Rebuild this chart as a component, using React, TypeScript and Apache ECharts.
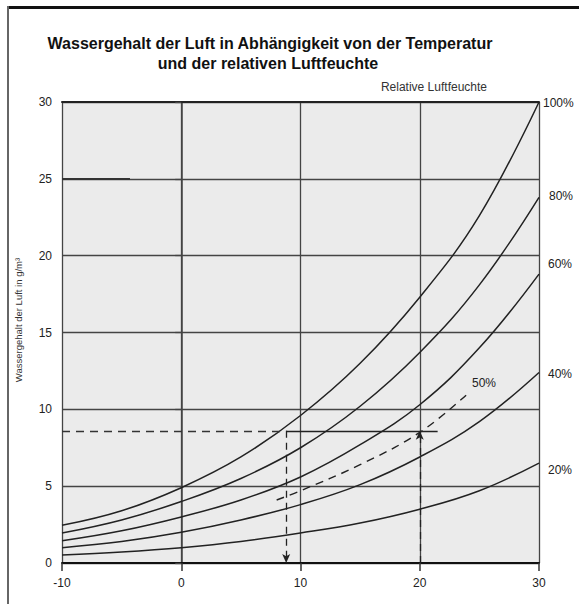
import React, { useEffect, useRef } from "react";
import * as echarts from "echarts";

const temps = [-10, -5, 0, 5, 10, 15, 20, 25, 30];
const rh100 = [2.45, 3.4, 4.9, 6.9, 9.6, 13.0, 17.3, 22.6, 30.0];
const rh80 = [1.95, 2.8, 4.0, 5.5, 7.5, 10.2, 13.7, 18.1, 23.8];
const rh60 = [1.45, 2.1, 3.0, 4.1, 5.6, 7.7, 10.3, 14.0, 18.8];
const rh40 = [1.0, 1.4, 2.0, 2.8, 3.8, 5.1, 6.9, 9.2, 12.4];
const rh20 = [0.52, 0.72, 1.0, 1.4, 1.95, 2.6, 3.5, 4.7, 6.5];
const temps50 = [8, 10, 15, 20, 24];
const rh50 = [4.1, 4.7, 6.4, 8.5, 11.0];

const xTicks = [-10, 0, 10, 20, 30];
const yTicks = [0, 5, 10, 15, 20, 25, 30];

// worked example: 20 °C, 50 % -> 8.6 g/m³ -> dew point ~8.8 °C
const exampleT = 20;
const exampleV = 8.6;
const dewT = 8.8;
const solidEndT = 21.5;
const shortLineV = 25;
const shortLineEndT = -4.3;

const title1 = "Wassergehalt der Luft in Abhängigkeit von der Temperatur";
const title2 = "und der relativen Luftfeuchte";
const legendTitle = "Relative Luftfeuchte";
const yName = "Wassergehalt der Luft in g/m³";

const FONT = "Liberation Sans, Arial, sans-serif";
const INK = "#222";

function pairs(xs: number[], ys: number[]) {
  return xs.map((x, i) => [x, ys[i]]);
}

export default function App() {
  const ref = useRef<HTMLDivElement>(null);
  useEffect(() => {
    if (!ref.current) return;
    const chart = echarts.init(ref.current, null, { renderer: "svg" });
    const curve = (name: string, ys: number[]) => ({
      name,
      type: "line",
      data: pairs(temps, ys),
      smooth: 0.4,
      showSymbol: false,
      lineStyle: { color: INK, width: 1.5 },
      z: 3,
    });
    const pct = (text: string, x: number, y: number) => ({
      type: "text",
      x,
      y,
      style: { text, fontSize: 12, fontFamily: FONT, fill: INK, verticalAlign: "middle" },
    });
    const option = {
      animation: false,
      backgroundColor: "#fff",
      grid: {
        left: 62,
        right: 40,
        top: 102,
        bottom: 41,
        show: true,
        backgroundColor: "#ebebeb",
        borderWidth: 0,
      },
      xAxis: [
        {
          type: "value",
          min: xTicks[0],
          max: xTicks[xTicks.length - 1],
          interval: 10,
          axisLine: { show: true, lineStyle: { color: "#111", width: 2 } },
          axisTick: { show: true, length: 8, lineStyle: { color: "#333", width: 1.5 } },
          axisLabel: { color: INK, fontSize: 12, fontFamily: FONT, margin: 14 },
          splitLine: { show: true, lineStyle: { color: "#444", width: 1.3 } },
        },
        {
          type: "value",
          position: "top",
          min: xTicks[0],
          max: xTicks[xTicks.length - 1],
          interval: 10,
          axisLine: { show: true, lineStyle: { color: "#222", width: 2 } },
          axisTick: { show: false },
          axisLabel: { show: false },
          splitLine: { show: false },
        },
      ],
      yAxis: {
        type: "value",
        min: yTicks[0],
        max: yTicks[yTicks.length - 1],
        interval: 5,
        axisLine: { show: true, lineStyle: { color: "#444", width: 1.5 } },
        axisTick: { show: true, length: 6, lineStyle: { color: "#444", width: 1.3 } },
        axisLabel: { color: INK, fontSize: 12, fontFamily: FONT, margin: 10 },
        splitLine: { show: true, lineStyle: { color: "#444", width: 1.3 } },
      },
      series: [
        curve("100%", rh100),
        curve("80%", rh80),
        curve("60%", rh60),
        curve("40%", rh40),
        curve("20%", rh20),
        {
          name: "50%",
          type: "line",
          data: pairs(temps50, rh50),
          smooth: 0.4,
          showSymbol: false,
          lineStyle: { color: INK, width: 1.4, type: [8, 6] },
          z: 3,
          markLine: {
            silent: true,
            symbol: ["none", "none"],
            label: { show: false },
            data: [
              [
                { coord: [xTicks[0], exampleV], lineStyle: { color: "#333", width: 1.3, type: [8, 6] } },
                { coord: [dewT, exampleV] },
              ],
              [
                { coord: [dewT, exampleV], lineStyle: { color: "#222", width: 1.3, type: "solid" } },
                { coord: [solidEndT, exampleV] },
              ],
              [
                { coord: [xTicks[0], shortLineV], lineStyle: { color: "#333", width: 2.2, type: "solid" } },
                { coord: [shortLineEndT, shortLineV] },
              ],
            ],
          },
        },
        {
          name: "arrows",
          type: "line",
          data: [],
          markLine: {
            silent: true,
            symbol: ["none", "arrow"],
            symbolSize: [6, 9],
            label: { show: false },
            lineStyle: { color: "#222", width: 1.3, type: [7, 5] },
            data: [
              [{ coord: [dewT, exampleV] }, { coord: [dewT, yTicks[0]] }],
              [{ coord: [exampleT, yTicks[0]] }, { coord: [exampleT, exampleV] }],
            ],
          },
        },
      ],
      graphic: [
        { type: "rect", shape: { x: 7, y: 6, width: 580, height: 3 }, style: { fill: "#111" } },
        { type: "rect", shape: { x: 7, y: 6, width: 2, height: 610 }, style: { fill: "#666" } },
        {
          type: "text",
          x: 270,
          y: 43,
          style: { text: title1, fontSize: 16, fontWeight: "bold", fontFamily: FONT, fill: "#111", align: "center", verticalAlign: "middle" },
        },
        {
          type: "text",
          x: 268,
          y: 63,
          style: { text: title2, fontSize: 16, fontWeight: "bold", fontFamily: FONT, fill: "#111", align: "center", verticalAlign: "middle" },
        },
        {
          type: "text",
          x: 487,
          y: 87,
          style: { text: legendTitle, fontSize: 12, fontFamily: FONT, fill: "#333", align: "right", verticalAlign: "middle" },
        },
        {
          type: "text",
          x: 18,
          y: 320,
          rotation: Math.PI / 2,
          style: { text: yName, fontSize: 9.5, fontFamily: FONT, fill: "#333", align: "center", verticalAlign: "middle" },
        },
        pct("100%", 543, 103),
        pct("80%", 549, 196),
        pct("60%", 548, 264),
        pct("40%", 548, 374),
        pct("20%", 548, 470),
        pct("50%", 472, 383),
      ],
    };
    chart.setOption(option as any);
    return () => chart.dispose();
  }, []);
  return (
    <div
      ref={ref}
      style={{ position: "absolute", left: 0, top: 0, width: 579, height: 604 }}
    />
  );
}
